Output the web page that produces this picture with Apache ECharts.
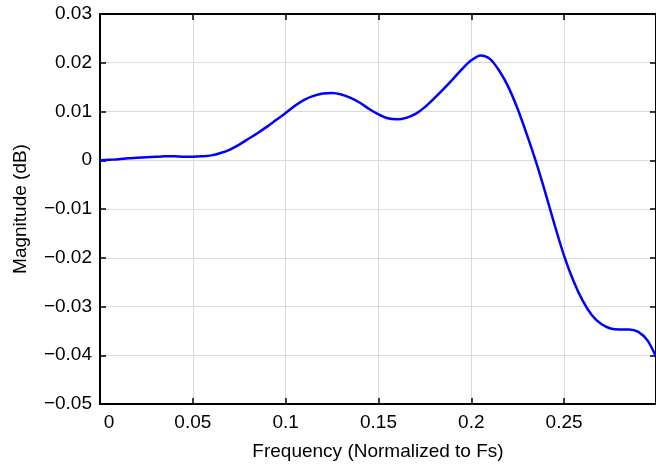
<!DOCTYPE html>
<html>
<head>
<meta charset="utf-8">
<script src="https://cdn.jsdelivr.net/npm/echarts@6/dist/echarts.min.js"></script>
<style>
  html, body { margin: 0; padding: 0; background: #fff; }
  #chart { width: 656px; height: 468px; }
</style>
</head>
<body>
<div id="chart"></div>
<script>
// frequency (normalized, step 0.005) and magnitude
var freq = [0, 0.005, 0.01, 0.015, 0.02, 0.025, 0.03, 0.035, 0.04, 0.045,
  0.05, 0.055, 0.06, 0.065, 0.07, 0.075, 0.08, 0.085, 0.09, 0.095,
  0.1, 0.105, 0.11, 0.115, 0.12, 0.125, 0.13, 0.135, 0.14, 0.145,
  0.15, 0.155, 0.16, 0.165, 0.17, 0.175, 0.18, 0.185, 0.19, 0.195,
  0.2, 0.205, 0.21, 0.215, 0.22, 0.225, 0.23, 0.235, 0.24, 0.245,
  0.25, 0.255, 0.26, 0.265, 0.27, 0.275, 0.28, 0.285, 0.29, 0.295, 0.2995];
var mag = [0, 0.0001, 0.0002, 0.0004, 0.0005, 0.0006, 0.0007, 0.0008, 0.0008, 0.0007,
  0.0007, 0.0008, 0.0010, 0.0015, 0.0022, 0.0032, 0.0044, 0.0056, 0.0069, 0.0083,
  0.0097, 0.0112, 0.0124, 0.0132, 0.0137, 0.0138, 0.0135, 0.0128, 0.0118, 0.0105,
  0.0094, 0.0086, 0.0084, 0.0087, 0.0095, 0.0109, 0.0127, 0.0146, 0.0166, 0.0187,
  0.0205, 0.0215, 0.0208, 0.0184, 0.0150, 0.0105, 0.0052, -0.0005, -0.0068, -0.0134,
  -0.0196, -0.0247, -0.0288, -0.0318, -0.0336, -0.0345, -0.0347, -0.0347, -0.0352, -0.0370, -0.0403];

var xTicks = { min: 0, max: 0.2995, interval: 0.05 };
var yTicks = { min: -0.05, max: 0.03, interval: 0.01 };

var points = [];
for (var i = 0; i < freq.length; i++) {
  points.push([freq[i], mag[i]]);
}

var font = 'Liberation Sans, Arial, sans-serif';
var fsize = 19;
var axisColor = '#000';
var gridColor = '#dadada';

function fmt(v) {
  var s = String(parseFloat(v.toFixed(4)));
  return s.charAt(0) == '-' ? '\u2212' + s.slice(1) : s;
}

// a box side: line + inward ticks, nothing else
function side(pos, t) {
  return {
    type: 'value', position: pos, z: 2,
    min: t.min, max: t.max, interval: t.interval,
    axisLine: { show: true, onZero: false, lineStyle: { color: axisColor, width: 2 } },
    axisTick: { show: true, inside: true, length: 6, lineStyle: { color: axisColor, width: 1.5 } },
    axisLabel: { show: false },
    splitLine: { show: false }
  };
}

// grid lines only, kept under the ticks
function gridAxis(pos, t) {
  return {
    type: 'value', position: pos, z: -1,
    min: t.min, max: t.max, interval: t.interval,
    axisLine: { show: false, onZero: false },
    axisTick: { show: false },
    axisLabel: { show: false },
    splitLine: { show: true, lineStyle: { color: gridColor, width: 1 } }
  };
}

var xMain = side('bottom', xTicks);
xMain.name = 'Frequency (Normalized to Fs)';
xMain.nameLocation = 'middle';
xMain.nameGap = 38;
xMain.nameTextStyle = { color: '#000', fontFamily: font, fontSize: fsize };
xMain.axisLabel = {
  show: true, color: '#000', fontFamily: font, fontSize: fsize, margin: 9,
  showMaxLabel: false,
  formatter: function (v) { return v === 0 ? '{z|0}' : fmt(v); },
  rich: { z: { color: '#000', fontFamily: font, fontSize: fsize, padding: [0, 0, 0, 18] } }
};

var yMain = side('left', yTicks);
yMain.name = 'Magnitude (dB)';
yMain.nameLocation = 'middle';
yMain.nameGap = 70;
yMain.nameTextStyle = { color: '#000', fontFamily: font, fontSize: fsize };
yMain.axisLabel = { show: true, color: '#000', fontFamily: font, fontSize: fsize, margin: 8, formatter: fmt };

var chart = echarts.init(document.getElementById('chart'));
chart.setOption({
  animation: false,
  grid: { left: 100, right: -1, top: 14, bottom: 64 },
  xAxis: [xMain, side('top', xTicks), gridAxis('bottom', xTicks)],
  yAxis: [yMain, side('right', yTicks), gridAxis('left', yTicks)],
  series: [
    {
      type: 'line',
      data: points,
      smooth: 0.3,
      showSymbol: false,
      clip: true,
      lineStyle: { color: '#0000ff', width: 2.5 }
    }
  ]
});
</script>
</body>
</html>
